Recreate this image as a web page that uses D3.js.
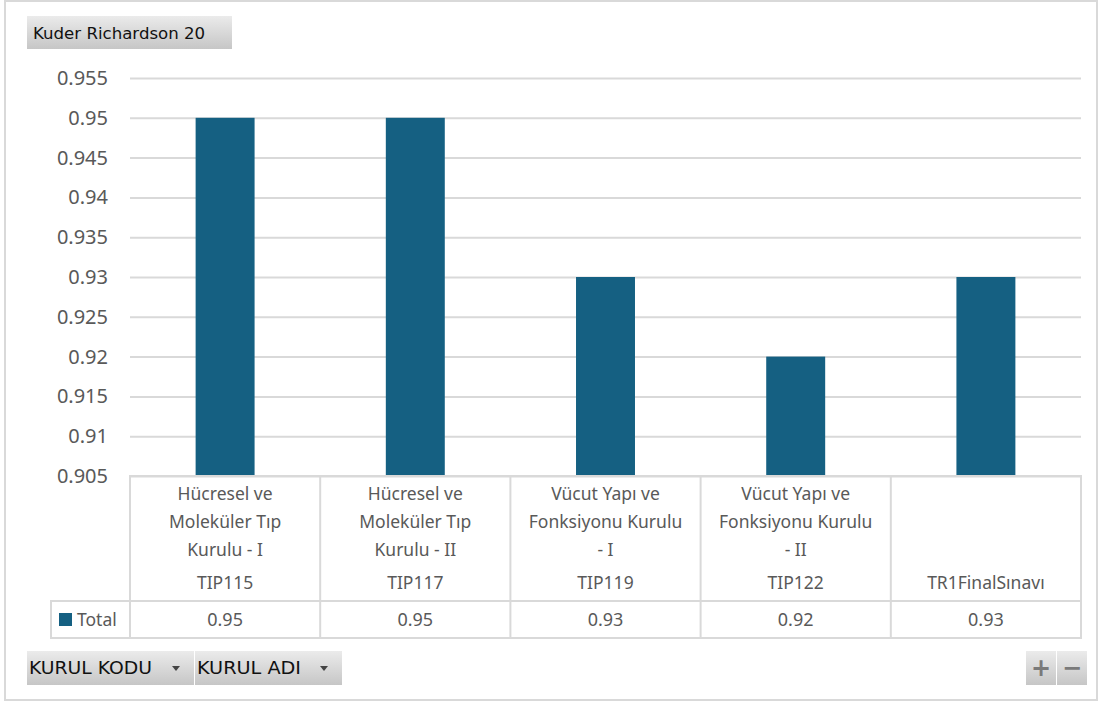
<!DOCTYPE html>
<html>
<head>
<meta charset="utf-8">
<script src="https://cdn.jsdelivr.net/npm/d3@7"></script>
<style>
  body { margin: 0; background: #fff; }
  svg { display: block; }
</style>
</head>
<body>
<div id="chart"></div>
<script>
// data
var codes = ["TIP115", "TIP117", "TIP119", "TIP122", "TR1FinalSınavı"];
var names = [
  ["Hücresel ve", "Moleküler Tıp", "Kurulu - I"],
  ["Hücresel ve", "Moleküler Tıp", "Kurulu - II"],
  ["Vücut Yapı ve", "Fonksiyonu Kurulu", "- I"],
  ["Vücut Yapı ve", "Fonksiyonu Kurulu", "- II"],
  []
];
var values = [0.95, 0.95, 0.93, 0.92, 0.93];
var yTicks = [0.905, 0.91, 0.915, 0.92, 0.925, 0.93, 0.935, 0.94, 0.945, 0.95, 0.955];
var seriesName = "Total";
var title = "Kuder Richardson 20";
var fieldButtons = ["KURUL KODU", "KURUL ADI"];

var svgWidth = 1101, svgHeight = 702;
var plot = { left: 130, right: 1081, top: 78, bottom: 476 };
var tableBottom = 638, headerBottom = 601, legendLeft = 51;
var barColor = "#156082";
var textColor = "#595959";
var lineColor = "#d9d9d9";
var tableFont = "'Noto Sans', sans-serif";
var btnFont = "'DejaVu Sans', sans-serif";

var svg = d3.select("#chart").append("svg")
  .attr("width", svgWidth)
  .attr("height", svgHeight);

// gradient for pivot buttons
var defs = svg.append("defs");
var grad = defs.append("linearGradient").attr("id", "btn").attr("x1", 0).attr("x2", 0).attr("y1", 0).attr("y2", 1);
grad.append("stop").attr("offset", "0%").attr("stop-color", "#ebebeb");
grad.append("stop").attr("offset", "100%").attr("stop-color", "#c6c6c6");

// outer frame
svg.append("rect")
  .attr("x", 5).attr("y", 1)
  .attr("width", 1092).attr("height", 699)
  .attr("fill", "#fff")
  .attr("stroke", lineColor)
  .attr("stroke-width", 2);

// scales
var x = d3.scaleBand()
  .domain(codes)
  .range([plot.left, plot.right])
  .paddingInner(0)
  .paddingOuter(0);

var y = d3.scaleLinear()
  .domain([0.905, 0.955])
  .range([plot.bottom, plot.top]);

// y axis + gridlines
var yAxis = d3.axisLeft(y)
  .tickValues(yTicks)
  .tickSize(-(plot.right - plot.left))
  .tickPadding(22)
  .tickFormat(d => d3.format("")(+d.toFixed(3)));

var gy = svg.append("g")
  .attr("transform", `translate(${plot.left},0)`)
  .call(yAxis);
gy.select(".domain").remove();
gy.selectAll(".tick line")
  .attr("stroke", lineColor)
  .attr("stroke-width", 2);
gy.selectAll(".tick text")
  .attr("fill", textColor)
  .style("font-family", tableFont)
  .style("font-size", "20px");

// bars
var barW = x.bandwidth() * 0.31;
svg.append("g").selectAll("rect")
  .data(values)
  .enter()
  .append("rect")
  .attr("x", (d, i) => x(codes[i]) + (x.bandwidth() - barW) / 2)
  .attr("y", d => y(d))
  .attr("width", barW)
  .attr("height", d => plot.bottom - y(d))
  .attr("fill", barColor);

// category table
var table = svg.append("g");
table.append("rect")
  .attr("x", plot.left).attr("y", plot.bottom)
  .attr("width", plot.right - plot.left)
  .attr("height", tableBottom - plot.bottom)
  .attr("fill", "none")
  .attr("stroke", lineColor)
  .attr("stroke-width", 2);
// legend cell
table.append("rect")
  .attr("x", legendLeft).attr("y", headerBottom)
  .attr("width", plot.left - legendLeft)
  .attr("height", tableBottom - headerBottom)
  .attr("fill", "none")
  .attr("stroke", lineColor)
  .attr("stroke-width", 2);
table.append("line")
  .attr("x1", plot.left).attr("x2", plot.right)
  .attr("y1", headerBottom).attr("y2", headerBottom)
  .attr("stroke", lineColor).attr("stroke-width", 2);
codes.forEach(function (c, i) {
  if (i > 0) {
    table.append("line")
      .attr("x1", x(c)).attr("x2", x(c))
      .attr("y1", plot.bottom).attr("y2", tableBottom)
      .attr("stroke", lineColor).attr("stroke-width", 2);
  }
  var cx = x(c) + x.bandwidth() / 2;
  names[i].forEach(function (ln, j) {
    table.append("text")
      .attr("x", cx).attr("y", 500 + j * 28)
      .attr("text-anchor", "middle")
      .attr("fill", textColor)
      .style("font-family", tableFont)
      .style("font-size", "17.5px")
      .text(ln);
  });
  table.append("text")
    .attr("x", cx).attr("y", 589)
    .attr("text-anchor", "middle")
    .attr("fill", textColor)
    .style("font-family", tableFont)
    .style("font-size", "17.5px")
    .text(c);
  table.append("text")
    .attr("x", cx).attr("y", 626)
    .attr("text-anchor", "middle")
    .attr("fill", textColor)
    .style("font-family", tableFont)
    .style("font-size", "18px")
    .text(values[i]);
});
table.append("rect")
  .attr("x", 59).attr("y", 613)
  .attr("width", 13).attr("height", 13)
  .attr("fill", barColor);
table.append("text")
  .attr("x", 77).attr("y", 626)
  .attr("fill", textColor)
  .style("font-family", tableFont)
  .style("font-size", "17.5px")
  .text(seriesName);

// title button
var tb = svg.append("g").attr("transform", "translate(27,16)");
tb.append("rect").attr("width", 205).attr("height", 33).attr("fill", "url(#btn)");
tb.append("text")
  .attr("x", 6).attr("y", 23)
  .style("font-family", btnFont)
  .style("font-size", "16.6px")
  .attr("fill", "#111")
  .text(title);

// field buttons
var btnX = [27, 195], btnW = [167, 147];
fieldButtons.forEach(function (t, i) {
  var g = svg.append("g").attr("transform", `translate(${btnX[i]},651)`);
  g.append("rect").attr("width", btnW[i]).attr("height", 34).attr("fill", "url(#btn)");
  g.append("text")
    .attr("x", 2).attr("y", 23)
    .style("font-family", btnFont)
    .style("font-size", "17px")
    .attr("fill", "#111")
    .attr("textLength", i === 0 ? 123 : 104)
    .attr("lengthAdjust", "spacingAndGlyphs")
    .text(t);
  var ax = btnW[i] - 18;
  g.append("path")
    .attr("d", `M${ax - 4},15 L${ax + 4},15 L${ax},20 Z`)
    .attr("fill", "#444");
});

// zoom buttons
[["+", 1026], ["−", 1057]].forEach(function (b) {
  var g = svg.append("g").attr("transform", `translate(${b[1]},651)`);
  g.append("rect").attr("width", 30).attr("height", 34).attr("fill", "url(#btn)");
  g.append("text")
    .attr("x", 15).attr("y", 25)
    .attr("text-anchor", "middle")
    .style("font-family", btnFont)
    .style("font-size", "24px")
    .style("font-weight", "bold")
    .attr("fill", "#7a7a7a")
    .text(b[0]);
});
</script>
</body>
</html>
